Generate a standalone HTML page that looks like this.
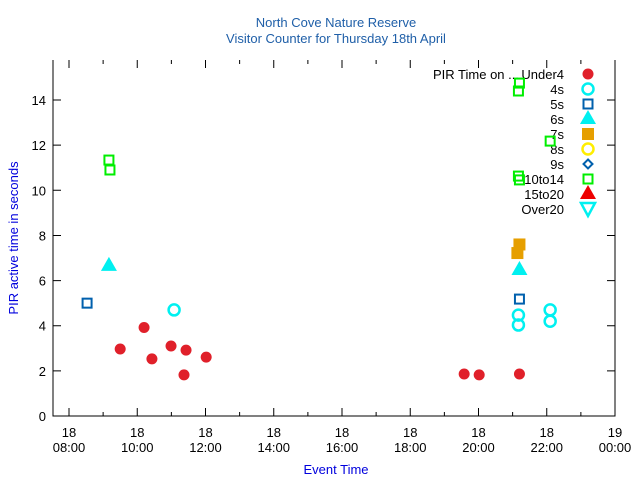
<!DOCTYPE html>
<html><head><meta charset="utf-8"><style>body{margin:0;background:#fff}svg{display:block}text{font-family:"Liberation Sans",sans-serif}</style></head>
<body>
<svg id="chart" width="640" height="480" xmlns="http://www.w3.org/2000/svg"></svg>
<script>
const under4T=[9.50,10.20,10.43,10.99,11.43,11.37,12.02,19.58,20.02,21.2];
const under4V=[2.97,3.92,2.53,3.10,2.92,1.82,2.61,1.86,1.82,1.86];
const s4T=[11.08,21.17,21.17,22.1,22.1];
const s4V=[4.7,4.47,4.03,4.7,4.2];
const s5T=[8.53,21.2];
const s5V=[5.0,5.18];
const s6T=[9.17,21.2];
const s6V=[6.65,6.47];
const s7T=[21.2,21.14];
const s7V=[7.6,7.22];
const s10T=[9.17,9.2,21.2,21.17,22.1,21.17,21.2];
const s10V=[11.34,10.9,14.75,14.4,12.18,10.63,10.46];
const yTicks=[0,2,4,6,8,10,12,14];
const xTicks=[8,10,12,14,16,18,20,22,24];
const xTickLabels=[["18","08:00"],["18","10:00"],["18","12:00"],["18","14:00"],["18","16:00"],["18","18:00"],["18","20:00"],["18","22:00"],["19","00:00"]];
const legendLabels=["Under4","4s","5s","6s","7s","8s","9s","10to14","15to20","Over20"];

const NS="http://www.w3.org/2000/svg";
const svg=document.getElementById('chart');
const L=53,R=615,T=60,B=416;
const xs=t=>69+(t-8)*34.125;
const ys=v=>B-v*22.57;
function mk(tag,a,parent){const e=document.createElementNS(NS,tag);for(const k in a)e.setAttribute(k,a[k]);(parent||svg).appendChild(e);return e;}
function txt(x,y,s,anchor,fill,size,name){const e=mk('text',{x:x,y:y,'text-anchor':anchor,fill:fill,'font-size':size});e.textContent=s;


return e;}

txt(336,27,"North Cove Nature Reserve","middle","#1f5fa8",13,"chart-title");
txt(336,43,"Visitor Counter for Thursday 18th April","middle","#1f5fa8",13,"chart-subtitle");
const yt=txt(18,238,"PIR active time in seconds","middle","#0000dd",13,"y-axis-title");
yt.setAttribute('transform','rotate(-90 18 238)');
txt(336,474,"Event Time","middle","#0000dd",13,"x-axis-title");

const ax=mk('path',{d:`M${L},${T}V${B}H${R}V${T}`,fill:'none',stroke:'#000','stroke-width':1});



yTicks.forEach(v=>{const y=ys(v);
const t=mk('path',{d:`M${L},${y}h8M${R},${y}h-8`,stroke:'#000'});


txt(L-7,y+5,String(v),'end','#000',13,'y-tick-label');});
xTicks.forEach((h,i)=>{const x=xs(h);
const t=mk('path',{d:`M${x},${B}v-8M${x},${T}v8`,stroke:'#000'});


if(h<24){const m=mk('path',{d:`M${x+34.125},${B}v-4M${x+34.125},${T}v4`,stroke:'#000'});

}
txt(x,437,xTickLabels[i][0],'middle','#000',13,'x-tick-label');
txt(x,452,xTickLabels[i][1],'middle','#000',13,'x-tick-label');});

function marker(kind,x,y,name){let e;
if(kind==='dot')e=mk('circle',{cx:x,cy:y,r:5.5,fill:'#e0202a'});
else if(kind==='ring')e=mk('circle',{cx:x,cy:y,r:5.5,fill:'none',stroke:'#00f0f0','stroke-width':2.5});
else if(kind==='ringY')e=mk('circle',{cx:x,cy:y,r:5.5,fill:'none',stroke:'#ffee00','stroke-width':2.5});
else if(kind==='sqB')e=mk('rect',{x:x-4.5,y:y-4.5,width:9,height:9,fill:'none',stroke:'#0060ad','stroke-width':2});
else if(kind==='sqG')e=mk('rect',{x:x-4.5,y:y-4.5,width:9,height:9,fill:'none',stroke:'#00ee00','stroke-width':2});
else if(kind==='sqO')e=mk('rect',{x:x-6,y:y-6,width:12,height:12,fill:'#e69f00'});
else if(kind==='triC')e=mk('path',{d:`M${x},${y-9}L${x+8},${y+5}H${x-8}Z`,fill:'#00f0f0'});
else if(kind==='triR')e=mk('path',{d:`M${x},${y-9}L${x+8},${y+5}H${x-8}Z`,fill:'#ee0000'});
else if(kind==='triD')e=mk('path',{d:`M${x-7},${y-6}H${x+7}L${x},${y+7}Z`,fill:'none',stroke:'#00f0f0','stroke-width':2.5});
else if(kind==='dia')e=mk('path',{d:`M${x},${y-4.5}L${x+4.5},${y}L${x},${y+4.5}L${x-4.5},${y}Z`,fill:'none',stroke:'#0060ad','stroke-width':2});

}

const legKinds=['dot','ring','sqB','triC','sqO','ringY','dia','sqG','triR','triD'];
txt(433,79,"PIR Time on ...","start","#000",13,"legend-title");
legendLabels.forEach((s,i)=>{const y=74+i*15;
txt(564,y+5,s,'end','#000',13,'legend-label');
marker(legKinds[i],588,y,'legend-marker');});

under4T.forEach((t,i)=>marker('dot',xs(t),ys(under4V[i]),'point-under4'));
s4T.forEach((t,i)=>marker('ring',xs(t),ys(s4V[i]),'point-4s'));
s5T.forEach((t,i)=>marker('sqB',xs(t),ys(s5V[i]),'point-5s'));
s6T.forEach((t,i)=>marker('triC',xs(t),ys(s6V[i]),'point-6s'));
s7T.forEach((t,i)=>marker('sqO',xs(t),ys(s7V[i]),'point-7s'));
s10T.forEach((t,i)=>marker('sqG',xs(t),ys(s10V[i]),'point-10to14'));
</script>
</body></html>
